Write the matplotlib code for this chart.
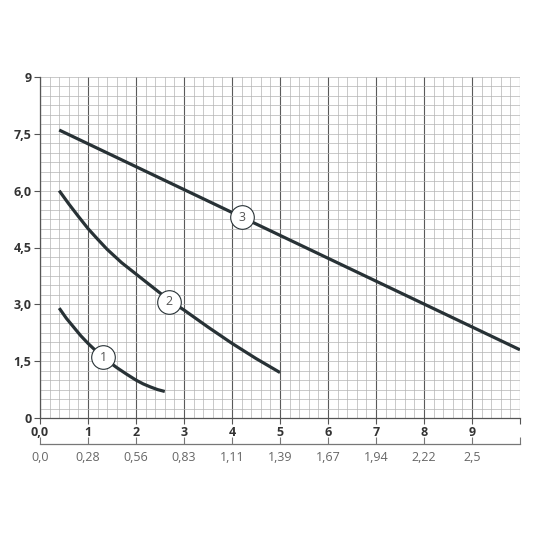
import matplotlib
matplotlib.use("Agg")
import matplotlib.pyplot as plt
from matplotlib.ticker import MultipleLocator

plt.rcParams['font.family'] = ['Open Sans', 'DejaVu Sans']

# curves (x = flow, y = head)
curve1_x = [0.4, 0.55, 0.7, 0.85, 1.0, 1.15, 1.3, 1.45, 1.6, 1.8, 2.0, 2.15, 2.3, 2.45, 2.6]
curve1_y = [2.9, 2.63, 2.4, 2.17, 1.97, 1.79, 1.62, 1.47, 1.33, 1.16, 1.0, 0.9, 0.82, 0.75, 0.7]
curve2_x = [0.4, 0.6, 0.8, 1.0, 1.2, 1.4, 1.7, 2.0, 2.35, 2.7, 3.0, 3.5, 4.0, 4.5, 5.0]
curve2_y = [6.0, 5.65, 5.32, 5.0, 4.72, 4.45, 4.1, 3.8, 3.45, 3.1, 2.85, 2.4, 1.97, 1.57, 1.2]
curve3_x = [0.4, 10.0]
curve3_y = [7.6, 1.8]

# numbered markers on the curves
label_names = ["1", "2", "3"]
label_x = [1.32, 2.68, 4.2]
label_y = [1.6, 3.07, 5.3]

# axis labels
x_ticks = [0, 1, 2, 3, 4, 5, 6, 7, 8, 9, 10]
x_labels = ["0,0", "1", "2", "3", "4", "5", "6", "7", "8", "9", ""]
y_ticks = [0, 1.5, 3.0, 4.5, 6.0, 7.5, 9]
y_labels = ["0", "1,5", "3,0", "4,5", "6,0", "7,5", "9"]
flow_labels = ["0,0", "0,28", "0,56", "0,83", "1,11", "1,39", "1,67", "1,94", "2,22", "2,5", ""]

line_col = "#283236"
text_col = "#333333"

fig = plt.figure(figsize=(5.5, 5.5), dpi=100)
ax = fig.add_axes([40 / 550, 1 - 418 / 550, 480 / 550, 341 / 550])
ax.set_xlim(0, 10)
ax.set_ylim(0, 9)

# graph paper grid
ax.xaxis.set_minor_locator(MultipleLocator(0.2))
ax.yaxis.set_minor_locator(MultipleLocator(0.25))
ax.grid(which="minor", color="#b4b4b4", linewidth=0.5)
ax.grid(which="major", axis="x", color="#5a5a5a", linewidth=0.8)
ax.grid(which="major", axis="y", color="#b4b4b4", linewidth=0.5)
ax.set_axisbelow(True)

for s in ["top", "right"]:
    ax.spines[s].set_visible(False)
for s in ["left", "bottom"]:
    ax.spines[s].set_color("#555555")
    ax.spines[s].set_linewidth(0.9)

ax.set_xticks(x_ticks)
ax.set_xticklabels(x_labels, fontweight="bold", fontsize=9, color=text_col)
ax.set_yticks(y_ticks)
ax.set_yticklabels(y_labels, fontweight="bold", fontsize=9, color=text_col)
ax.tick_params(which="major", length=4, width=0.8, color="#555555", pad=2)
ax.tick_params(which="minor", length=0)

for cx, cy in [(curve1_x, curve1_y), (curve2_x, curve2_y), (curve3_x, curve3_y)]:
    ax.plot(cx, cy, color=line_col, linewidth=2.3, solid_capstyle="butt", zorder=3)

for name, lx, ly in zip(label_names, label_x, label_y):
    ax.plot(lx, ly, marker="o", markersize=17, markerfacecolor="white",
            markeredgecolor=line_col, markeredgewidth=0.8, zorder=4)
    ax.text(lx, ly, name, ha="center", va="center", fontsize=9, color="#555555", zorder=5)

# second flow scale below
ax2 = fig.add_axes([40 / 550, 1 - 444 / 550, 480 / 550, 0.001])
ax2.set_xlim(0, 10)
ax2.set_yticks([])
for s in ["top", "right", "left"]:
    ax2.spines[s].set_visible(False)
ax2.spines["bottom"].set_color("#777777")
ax2.spines["bottom"].set_linewidth(0.9)
ax2.set_xticks(x_ticks)
ax2.set_xticklabels(flow_labels, fontsize=9, color="#666666")
ax2.tick_params(axis="x", direction="in", length=5, width=0.8, color="#777777", pad=5)
ax2.patch.set_visible(False)

fig.savefig("out.png", dpi=100)
